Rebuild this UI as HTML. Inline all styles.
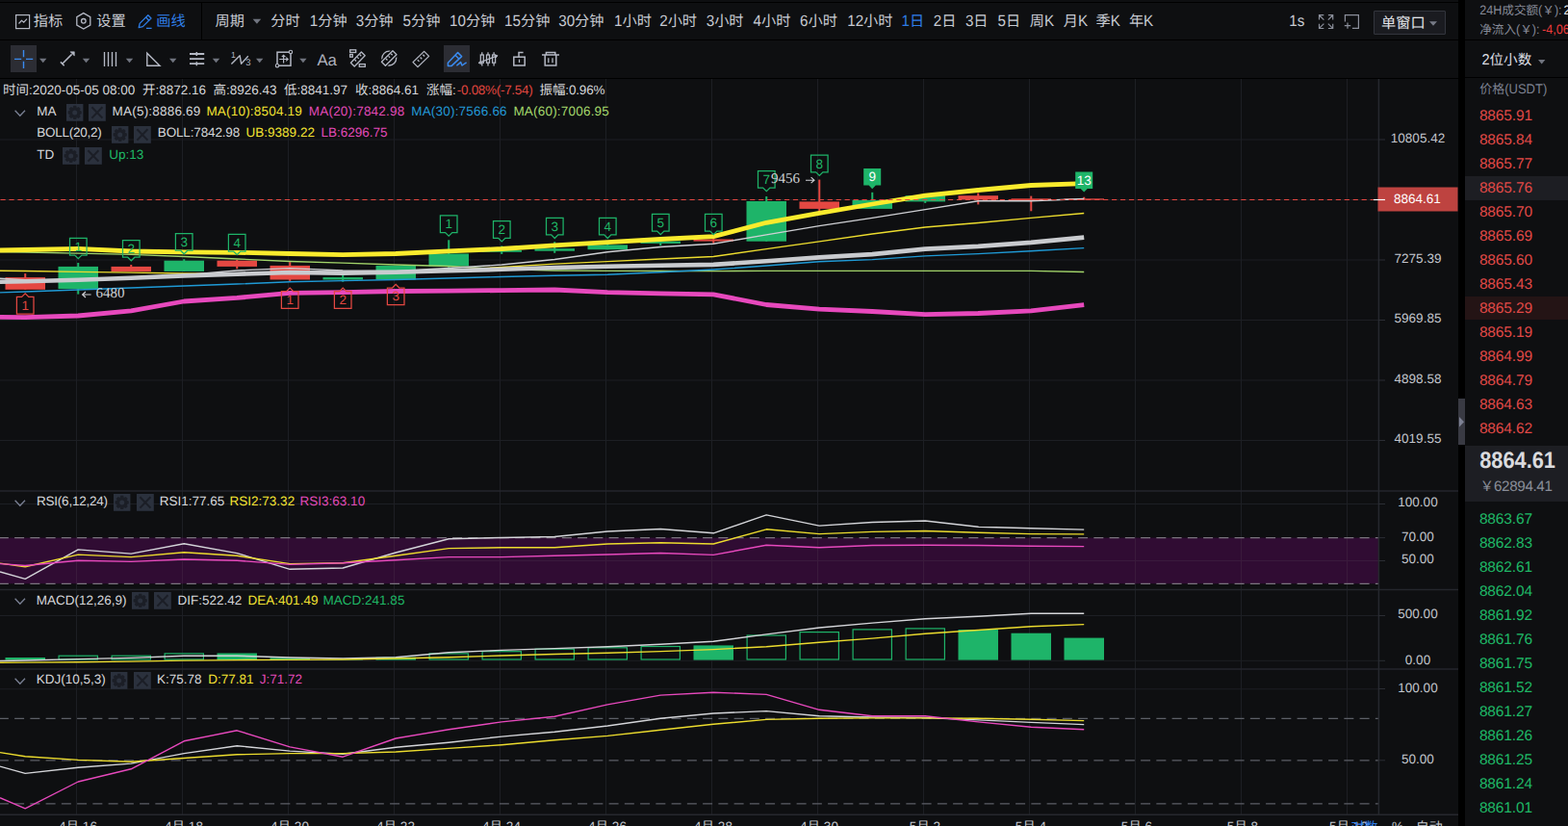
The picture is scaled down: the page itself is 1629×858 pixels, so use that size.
<!DOCTYPE html><html><head><meta charset="utf-8"><title>K-line chart</title><style>
html,body{margin:0;padding:0;background:#000;}
body{width:1629px;height:858px;overflow:hidden;position:relative;font-family:"Liberation Sans","Noto Sans CJK SC",sans-serif;text-rendering:geometricPrecision;}
#L{position:absolute;left:0;top:0;width:1515px;height:858px;background:#0e0f11;overflow:hidden}
#R{position:absolute;left:1522px;top:0;width:107px;height:858px;background:#0e0f11;overflow:hidden}
.t{position:absolute;line-height:20px;white-space:nowrap;}
.k{position:absolute;background:#000}

.l2{display:inline-block;transform:scaleY(1.08);transform-origin:0 72%}
.l3{display:inline-block;transform:scaleY(1.1);transform-origin:0 88%}
.lb{display:inline-block;transform:scaleY(1.07);transform-origin:0 77%}
</style></head><body>
<div id="L">
<svg style="position:absolute;left:0;top:0" width="1515" height="858" shape-rendering="auto"><path d="M79.5 82V846" stroke="#1d1f24" stroke-width="1"/><path d="M189.5 82V846" stroke="#1d1f24" stroke-width="1"/><path d="M299.5 82V846" stroke="#1d1f24" stroke-width="1"/><path d="M409.5 82V846" stroke="#1d1f24" stroke-width="1"/><path d="M519.5 82V846" stroke="#1d1f24" stroke-width="1"/><path d="M629.5 82V846" stroke="#1d1f24" stroke-width="1"/><path d="M739.5 82V846" stroke="#1d1f24" stroke-width="1"/><path d="M849.5 82V846" stroke="#1d1f24" stroke-width="1"/><path d="M959.5 82V846" stroke="#1d1f24" stroke-width="1"/><path d="M1069.5 82V846" stroke="#1d1f24" stroke-width="1"/><path d="M1179.5 82V846" stroke="#1d1f24" stroke-width="1"/><path d="M1289.5 82V846" stroke="#1d1f24" stroke-width="1"/><path d="M1399.5 82V846" stroke="#1d1f24" stroke-width="1"/><path d="M0 145.0H1432" stroke="#1d1f24" stroke-width="1"/><path d="M0 207.5H1432" stroke="#1d1f24" stroke-width="1"/><path d="M0 270.0H1432" stroke="#1d1f24" stroke-width="1"/><path d="M0 332.5H1432" stroke="#1d1f24" stroke-width="1"/><path d="M0 395.0H1432" stroke="#1d1f24" stroke-width="1"/><path d="M0 457.5H1432" stroke="#1d1f24" stroke-width="1"/><path d="M0 523.5H1432" stroke="#1d1f24" stroke-width="1"/><path d="M0 582.5H1432" stroke="#1d1f24" stroke-width="1"/><path d="M0 639.5H1432" stroke="#1d1f24" stroke-width="1"/><path d="M0 686.3H1432" stroke="#1d1f24" stroke-width="1"/><path d="M0 715.8H1432" stroke="#1d1f24" stroke-width="1"/><rect x="0" y="558.6" width="1432" height="47.7" fill="#300c33"/><path d="M79.5 558.5V606.5" stroke="#3a1a3c" stroke-width="1"/><path d="M189.5 558.5V606.5" stroke="#3a1a3c" stroke-width="1"/><path d="M299.5 558.5V606.5" stroke="#3a1a3c" stroke-width="1"/><path d="M409.5 558.5V606.5" stroke="#3a1a3c" stroke-width="1"/><path d="M519.5 558.5V606.5" stroke="#3a1a3c" stroke-width="1"/><path d="M629.5 558.5V606.5" stroke="#3a1a3c" stroke-width="1"/><path d="M739.5 558.5V606.5" stroke="#3a1a3c" stroke-width="1"/><path d="M849.5 558.5V606.5" stroke="#3a1a3c" stroke-width="1"/><path d="M959.5 558.5V606.5" stroke="#3a1a3c" stroke-width="1"/><path d="M1069.5 558.5V606.5" stroke="#3a1a3c" stroke-width="1"/><path d="M1179.5 558.5V606.5" stroke="#3a1a3c" stroke-width="1"/><path d="M1289.5 558.5V606.5" stroke="#3a1a3c" stroke-width="1"/><path d="M1399.5 558.5V606.5" stroke="#3a1a3c" stroke-width="1"/><path d="M0 582.5H1432" stroke="#3a1a3c" stroke-width="1"/><path d="M-1.15 558.6H1432" stroke="#7a757e" stroke-width="1.3" stroke-dasharray="10 6.25"/><path d="M-1.15 606.3H1432" stroke="#7a757e" stroke-width="1.3" stroke-dasharray="10 6.25"/><path d="M-1.15 746.4H1432" stroke="#5c5f67" stroke-width="1.3" stroke-dasharray="10 6.25"/><path d="M-1.15 789.8H1432" stroke="#5c5f67" stroke-width="1.3" stroke-dasharray="10 6.25"/><path d="M-1.15 834.8H1432" stroke="#5c5f67" stroke-width="1.3" stroke-dasharray="10 6.25"/><path d="M0 510.0H1515" stroke="#24262c" stroke-width="1.6"/><path d="M0 612.5H1515" stroke="#24262c" stroke-width="1.3"/><path d="M0 695.0H1515" stroke="#24262c" stroke-width="1.6"/><path d="M1432.4 82V846" stroke="#26282e" stroke-width="1.5"/><path d="M0 846.2H1515" stroke="#26282e" stroke-width="1.6"/><path d="M1432 145.0H1439" stroke="#2b2d34" stroke-width="1"/><path d="M1432 270.0H1439" stroke="#2b2d34" stroke-width="1"/><path d="M1432 332.5H1439" stroke="#2b2d34" stroke-width="1"/><path d="M1432 395.0H1439" stroke="#2b2d34" stroke-width="1"/><path d="M1432 457.5H1439" stroke="#2b2d34" stroke-width="1"/><path d="M1432 523.5H1439" stroke="#2b2d34" stroke-width="1"/><path d="M1432 558.6H1439" stroke="#2b2d34" stroke-width="1"/><path d="M1432 582.5H1439" stroke="#2b2d34" stroke-width="1"/><path d="M1432 639.5H1439" stroke="#2b2d34" stroke-width="1"/><path d="M1432 686.3H1439" stroke="#2b2d34" stroke-width="1"/><path d="M1432 715.5H1439" stroke="#2b2d34" stroke-width="1"/><path d="M1432 789.8H1439" stroke="#2b2d34" stroke-width="1"/><path d="M26.25 284.1V300.8" stroke="#e44842" stroke-width="2"/><rect x="5.5" y="288.1" width="41.5" height="12.7" fill="#e44842"/><path d="M81.25 273.0V305.6" stroke="#1eb469" stroke-width="2"/><rect x="60.5" y="276.9" width="41.5" height="23.2" fill="#1eb469"/><path d="M136.25 275.0V282.1" stroke="#e44842" stroke-width="2"/><rect x="115.5" y="276.9" width="41.5" height="5.2" fill="#e44842"/><path d="M191.25 269.2V281.9" stroke="#1eb469" stroke-width="2"/><rect x="170.5" y="270.7" width="41.5" height="11.2" fill="#1eb469"/><path d="M246.25 269.9V279.3" stroke="#e44842" stroke-width="2"/><rect x="225.5" y="270.7" width="41.5" height="6.2" fill="#e44842"/><path d="M301.25 272.1V291.9" stroke="#e44842" stroke-width="2"/><rect x="280.5" y="275.9" width="41.5" height="14.6" fill="#e44842"/><path d="M356.25 285.9V292.7" stroke="#1eb469" stroke-width="2"/><rect x="335.5" y="288.1" width="41.5" height="2.4" fill="#1eb469"/><path d="M411.25 275.9V290.5" stroke="#1eb469" stroke-width="2"/><rect x="390.5" y="275.9" width="41.5" height="14.6" fill="#1eb469"/><path d="M466.25 249.3V277.8" stroke="#1eb469" stroke-width="2"/><rect x="445.5" y="263.5" width="41.5" height="12.9" fill="#1eb469"/><path d="M521.25 255.4V263.9" stroke="#1eb469" stroke-width="2"/><rect x="500.5" y="260.0" width="41.5" height="1.8" fill="#1eb469"/><path d="M576.25 251.2V262.8" stroke="#1eb469" stroke-width="2"/><rect x="555.5" y="258.2" width="41.5" height="2.5" fill="#1eb469"/><path d="M631.25 252.0V259.2" stroke="#1eb469" stroke-width="2"/><rect x="610.5" y="254.4" width="41.5" height="4.8" fill="#1eb469"/><path d="M686.25 248.0V255.0" stroke="#1eb469" stroke-width="2"/><rect x="665.5" y="250.6" width="41.5" height="2.3" fill="#1eb469"/><path d="M741.25 246.0V252.7" stroke="#e44842" stroke-width="2"/><rect x="720.5" y="248.5" width="41.5" height="2.1" fill="#e44842"/><path d="M796.25 204.0V250.7" stroke="#1eb469" stroke-width="2"/><rect x="775.5" y="209.0" width="41.5" height="41.7" fill="#1eb469"/><path d="M851.25 186.6V219.8" stroke="#e44842" stroke-width="2"/><rect x="830.5" y="209.4" width="41.5" height="7.5" fill="#e44842"/><path d="M906.25 199.8V216.9" stroke="#1eb469" stroke-width="2"/><rect x="885.5" y="208.0" width="41.5" height="8.9" fill="#1eb469"/><path d="M961.25 203.2V210.9" stroke="#1eb469" stroke-width="2"/><rect x="940.5" y="203.2" width="41.5" height="6.2" fill="#1eb469"/><path d="M1016.25 200.5V212.4" stroke="#e44842" stroke-width="2"/><rect x="995.5" y="203.2" width="41.5" height="4.2" fill="#e44842"/><path d="M1071.25 203.6V219.3" stroke="#e44842" stroke-width="2"/><rect x="1050.5" y="206.3" width="41.5" height="1.7" fill="#e44842"/><path d="M1126.25 204.7V207.6" stroke="#e44842" stroke-width="2"/><rect x="1105.5" y="206.3" width="41.5" height="1.3" fill="#e44842"/><rect x="5.5" y="683.0" width="41.5" height="2.6" fill="#1eb469"/><rect x="61.1" y="681.2" width="40.3" height="3.8" fill="none" stroke="#1eb469" stroke-width="1.2"/><rect x="116.1" y="681.2" width="40.3" height="3.8" fill="none" stroke="#1eb469" stroke-width="1.2"/><rect x="171.1" y="678.9" width="40.3" height="6.1" fill="none" stroke="#1eb469" stroke-width="1.2"/><rect x="225.5" y="678.5" width="41.5" height="7.1" fill="#1eb469"/><rect x="280.5" y="683.3" width="41.5" height="2.3" fill="#1eb469"/><rect x="335.5" y="685.2" width="41.5" height="0.4" fill="#1eb469"/><rect x="390.5" y="682.7" width="41.5" height="2.9" fill="#1eb469"/><rect x="446.1" y="678.9" width="40.3" height="6.1" fill="none" stroke="#1eb469" stroke-width="1.2"/><rect x="501.1" y="676.7" width="40.3" height="8.3" fill="none" stroke="#1eb469" stroke-width="1.2"/><rect x="556.1" y="674.2" width="40.3" height="10.8" fill="none" stroke="#1eb469" stroke-width="1.2"/><rect x="611.1" y="672.8" width="40.3" height="12.2" fill="none" stroke="#1eb469" stroke-width="1.2"/><rect x="666.1" y="671.5" width="40.3" height="13.5" fill="none" stroke="#1eb469" stroke-width="1.2"/><rect x="720.5" y="670.4" width="41.5" height="15.2" fill="#1eb469"/><rect x="776.1" y="660.0" width="40.3" height="25.0" fill="none" stroke="#1eb469" stroke-width="1.2"/><rect x="831.1" y="656.6" width="40.3" height="28.4" fill="none" stroke="#1eb469" stroke-width="1.2"/><rect x="886.1" y="653.9" width="40.3" height="31.1" fill="none" stroke="#1eb469" stroke-width="1.2"/><rect x="941.1" y="652.9" width="40.3" height="32.1" fill="none" stroke="#1eb469" stroke-width="1.2"/><rect x="995.5" y="654.0" width="41.5" height="31.6" fill="#1eb469"/><rect x="1050.5" y="657.7" width="41.5" height="27.9" fill="#1eb469"/><rect x="1105.5" y="662.6" width="41.5" height="23.0" fill="#1eb469"/><polyline points="0.0,261.5 26.2,262.0 81.2,263.2 136.2,264.4 191.2,266.5 246.2,269.0 301.2,271.5 356.2,273.2 411.2,275.0 466.2,276.5 521.2,279.5 576.2,281.0 631.2,281.3 686.2,281.5 741.2,281.6 796.2,281.4 851.2,281.4 906.2,281.4 961.2,281.4 1016.2,281.4 1071.2,281.4 1126.2,282.5" stroke="#a2d46a" stroke-width="1.35" fill="none" stroke-linejoin="round"/><polyline points="0.0,303.9 26.2,303.0 81.2,301.0 136.2,299.0 191.2,297.0 246.2,295.0 301.2,292.8 356.2,291.6 411.2,290.5 466.2,289.0 521.2,287.5 576.2,286.2 631.2,285.2 686.2,282.8 741.2,280.0 796.2,276.0 851.2,271.8 906.2,269.6 961.2,265.9 1016.2,263.6 1071.2,260.8 1126.2,257.6" stroke="#1f9ad6" stroke-width="1.4" fill="none" stroke-linejoin="round"/><polyline points="0.0,281.2 26.2,281.5 81.2,282.3 136.2,283.2 191.2,284.0 246.2,284.5 301.2,284.0 356.2,283.5 411.2,282.0 466.2,280.5 521.2,277.5 576.2,274.2 631.2,271.6 686.2,269.0 741.2,266.5 796.2,258.6 851.2,250.8 906.2,243.0 961.2,236.0 1016.2,231.5 1071.2,226.4 1126.2,221.5" stroke="#ecdc2e" stroke-width="1.35" fill="none" stroke-linejoin="round"/><polyline points="0.0,289.3 26.2,290.6 81.2,290.6 136.2,288.6 191.2,285.6 246.2,281.0 301.2,278.6 356.2,281.0 411.2,281.5 466.2,278.5 521.2,275.0 576.2,269.5 631.2,261.7 686.2,256.5 741.2,253.3 796.2,243.9 851.2,234.6 906.2,226.4 961.2,217.6 1016.2,208.8 1071.2,208.7 1126.2,206.5" stroke="#cfd0d4" stroke-width="1.4" fill="none" stroke-linejoin="round"/><polyline points="0.0,292.7 26.2,292.2 81.2,290.7 136.2,288.8 191.2,286.4 246.2,284.7 301.2,283.0 356.2,283.6 411.2,282.8 466.2,281.2 521.2,279.8 576.2,278.0 631.2,276.8 686.2,275.8 741.2,274.9 796.2,271.2 851.2,267.4 906.2,264.1 961.2,258.6 1016.2,255.9 1071.2,251.9 1126.2,246.6" stroke="#c9cbcf" stroke-width="4.6" fill="none" stroke-linejoin="round"/><polyline points="0.0,260.0 26.2,259.5 81.2,258.4 136.2,261.0 191.2,261.8 246.2,262.3 301.2,263.5 356.2,264.7 411.2,263.5 466.2,260.9 521.2,258.5 576.2,254.8 631.2,251.7 686.2,248.5 741.2,245.6 796.2,231.3 851.2,221.3 906.2,212.0 961.2,203.2 1016.2,197.5 1071.2,192.5 1126.2,190.6" stroke="#faeb2d" stroke-width="4.8" fill="none" stroke-linejoin="round"/><polyline points="0.0,329.3 26.2,329.7 81.2,328.0 136.2,322.8 191.2,313.0 246.2,309.4 301.2,304.3 356.2,303.6 411.2,302.5 466.2,302.2 521.2,301.6 576.2,301.0 631.2,303.7 686.2,304.8 741.2,305.8 796.2,316.5 851.2,321.2 906.2,323.5 961.2,326.6 1016.2,325.5 1071.2,322.8 1126.2,316.7" stroke="#e749bd" stroke-width="4.8" fill="none" stroke-linejoin="round"/><polyline points="0.0,593.9 26.2,601.3 81.2,570.9 136.2,575.1 191.2,564.8 246.2,574.6 301.2,591.3 356.2,590.0 411.2,574.0 466.2,559.8 521.2,558.5 576.2,557.5 631.2,552.0 686.2,549.5 741.2,553.8 796.2,534.9 851.2,546.1 906.2,542.5 961.2,541.0 1016.2,547.3 1071.2,548.7 1126.2,550.1" stroke="#d4d5d9" stroke-width="1.4" fill="none" stroke-linejoin="round"/><polyline points="0.0,585.1 26.2,588.8 81.2,576.1 136.2,578.6 191.2,573.7 246.2,577.3 301.2,585.6 356.2,584.8 411.2,577.3 466.2,569.6 521.2,568.8 576.2,568.8 631.2,565.0 686.2,563.7 741.2,565.0 796.2,549.8 851.2,554.6 906.2,552.4 961.2,551.5 1016.2,553.2 1071.2,554.6 1126.2,554.9" stroke="#ecdc2e" stroke-width="1.4" fill="none" stroke-linejoin="round"/><polyline points="0.0,585.6 26.2,587.5 81.2,582.3 136.2,583.4 191.2,581.0 246.2,582.3 301.2,586.4 356.2,584.8 411.2,581.7 466.2,578.6 521.2,578.6 576.2,577.3 631.2,576.0 686.2,574.5 741.2,576.4 796.2,566.2 851.2,568.7 906.2,566.5 961.2,566.2 1016.2,566.5 1071.2,567.3 1126.2,567.6" stroke="#e749bd" stroke-width="1.4" fill="none" stroke-linejoin="round"/><polyline points="0.0,686.5 26.2,686.0 81.2,684.6 136.2,683.4 191.2,681.3 246.2,681.2 301.2,683.0 356.2,684.0 411.2,682.7 466.2,677.8 521.2,675.4 576.2,673.6 631.2,671.7 686.2,669.2 741.2,666.3 796.2,658.9 851.2,652.0 906.2,647.1 961.2,642.7 1016.2,640.2 1071.2,637.3 1126.2,637.3" stroke="#d4d5d9" stroke-width="1.4" fill="none" stroke-linejoin="round"/><polyline points="0.0,688.3 26.2,688.1 81.2,687.7 136.2,687.1 191.2,686.1 246.2,685.6 301.2,685.4 356.2,685.0 411.2,684.0 466.2,682.7 521.2,681.0 576.2,679.5 631.2,678.3 686.2,676.6 741.2,674.6 796.2,671.7 851.2,667.3 906.2,663.1 961.2,658.2 1016.2,654.5 1071.2,650.8 1126.2,648.6" stroke="#ecdc2e" stroke-width="1.4" fill="none" stroke-linejoin="round"/><polyline points="0.0,796.1 26.2,803.4 81.2,797.3 136.2,793.1 191.2,782.6 246.2,774.7 301.2,780.1 356.2,783.3 411.2,776.2 466.2,771.2 521.2,765.1 576.2,760.2 631.2,754.0 686.2,746.2 741.2,741.0 796.2,738.6 851.2,743.7 906.2,745.0 961.2,745.5 1016.2,747.9 1071.2,750.4 1126.2,752.6" stroke="#d4d5d9" stroke-width="1.4" fill="none" stroke-linejoin="round"/><polyline points="0.0,781.6 26.2,785.8 81.2,789.4 136.2,791.2 191.2,787.5 246.2,783.8 301.2,782.6 356.2,782.6 411.2,781.0 466.2,777.4 521.2,773.7 576.2,768.8 631.2,764.4 686.2,758.2 741.2,752.3 796.2,747.4 851.2,746.2 906.2,745.9 961.2,745.9 1016.2,746.2 1071.2,747.2 1126.2,748.6" stroke="#ecdc2e" stroke-width="1.4" fill="none" stroke-linejoin="round"/><polyline points="0.0,828.7 26.2,839.8 81.2,812.0 136.2,798.8 191.2,769.8 246.2,758.8 301.2,775.9 356.2,786.2 411.2,767.0 466.2,757.7 521.2,749.9 576.2,744.2 631.2,731.9 686.2,722.1 741.2,719.2 796.2,721.4 851.2,737.3 906.2,743.7 961.2,743.7 1016.2,749.9 1071.2,755.3 1126.2,757.7" stroke="#e749bd" stroke-width="1.4" fill="none" stroke-linejoin="round"/><path d="M0.5 207.5H1432" stroke="#e44842" stroke-width="1" stroke-dasharray="5.2 3.75"/><path d="M72.5 247.4h17.6v17.6h-5.2l-3.6 3.6l-3.6-3.6h-5.2z" fill="none" stroke="#1eb469" stroke-width="1.25"/><path d="M127.5 249.6h17.6v17.6h-5.2l-3.6 3.6l-3.6-3.6h-5.2z" fill="none" stroke="#1eb469" stroke-width="1.25"/><path d="M182.4 242.6h17.6v17.6h-5.2l-3.6 3.6l-3.6-3.6h-5.2z" fill="none" stroke="#1eb469" stroke-width="1.25"/><path d="M237.4 243.4h17.6v17.6h-5.2l-3.6 3.6l-3.6-3.6h-5.2z" fill="none" stroke="#1eb469" stroke-width="1.25"/><path d="M457.4 223.9h17.6v17.6h-5.2l-3.6 3.6l-3.6-3.6h-5.2z" fill="none" stroke="#1eb469" stroke-width="1.25"/><path d="M512.5 229.7h17.6v17.6h-5.2l-3.6 3.6l-3.6-3.6h-5.2z" fill="none" stroke="#1eb469" stroke-width="1.25"/><path d="M567.5 226.3h17.6v17.6h-5.2l-3.6 3.6l-3.6-3.6h-5.2z" fill="none" stroke="#1eb469" stroke-width="1.25"/><path d="M622.5 226.3h17.6v17.6h-5.2l-3.6 3.6l-3.6-3.6h-5.2z" fill="none" stroke="#1eb469" stroke-width="1.25"/><path d="M677.5 222.4h17.6v17.6h-5.2l-3.6 3.6l-3.6-3.6h-5.2z" fill="none" stroke="#1eb469" stroke-width="1.25"/><path d="M732.5 222.4h17.6v17.6h-5.2l-3.6 3.6l-3.6-3.6h-5.2z" fill="none" stroke="#1eb469" stroke-width="1.25"/><path d="M787.5 177.5h17.6v17.6h-5.2l-3.6 3.6l-3.6-3.6h-5.2z" fill="none" stroke="#1eb469" stroke-width="1.25"/><path d="M842.5 161.2h17.6v17.6h-5.2l-3.6 3.6l-3.6-3.6h-5.2z" fill="none" stroke="#1eb469" stroke-width="1.25"/><path d="M897.2 175.0h18v17.6h-5.4l-3.6 3.6l-3.6-3.6h-5.4z" fill="#1eb469"/><path d="M1117.2 178.4h18v17.6h-5.4l-3.6 3.6l-3.6-3.6h-5.4z" fill="#1eb469"/><path d="M17.4 308.4h5.2l3.6-3.6l3.6 3.6h5.2v17.6h-17.6z" fill="none" stroke="#e44842" stroke-width="1.25"/><path d="M292.4 302.7h5.2l3.6-3.6l3.6 3.6h5.2v17.6h-17.6z" fill="none" stroke="#e44842" stroke-width="1.25"/><path d="M347.4 302.7h5.2l3.6-3.6l3.6 3.6h5.2v17.6h-17.6z" fill="none" stroke="#e44842" stroke-width="1.25"/><path d="M402.4 299.0h5.2l3.6-3.6l3.6 3.6h5.2v17.6h-17.6z" fill="none" stroke="#e44842" stroke-width="1.25"/><rect x="1431.5" y="194.5" width="83" height="25" fill="#be4340"/><path d="M1427 207.5H1439" stroke="#fff" stroke-width="1.2"/><path d="M85.6 306h9M89 303l-3.4 3 3.4 3" stroke="#cfd1d6" stroke-width="1.1" fill="none"/><path d="M837 187.2h9M842.6 184.2l3.4 3-3.4 3" stroke="#cfd1d6" stroke-width="1.1" fill="none"/></svg>
<div class="k" style="left:0;top:2px;width:1515px;height:1px"></div>
<div class="k" style="left:0;top:41px;width:1515px;height:1px"></div>
<div class="k" style="left:209px;top:3px;width:1px;height:38px"></div>
<div class="k" style="left:0;top:81px;width:1515px;height:1px"></div>
<div class="t" style="left:34.80px;top:13.03px;font-size:15.20px;color:#c7cad1;">指标</div>
<div class="t" style="left:100.20px;top:13.03px;font-size:15.20px;color:#c7cad1;">设置</div>
<div class="t" style="left:162.20px;top:13.03px;font-size:15.20px;color:#2e7de6;">画线</div>
<div class="t" style="left:223.60px;top:13.03px;font-size:15.20px;color:#c7cad1;">周期</div>
<div class="t" style="left:281.20px;top:13.03px;font-size:15.20px;color:#c7cad1;">分时</div>
<div class="t" style="left:321.80px;top:13.03px;font-size:15.20px;color:#c7cad1;"><span class="lb">1</span>分钟</div>
<div class="t" style="left:369.70px;top:13.03px;font-size:15.20px;color:#c7cad1;"><span class="lb">3</span>分钟</div>
<div class="t" style="left:418.50px;top:13.03px;font-size:15.20px;color:#c7cad1;"><span class="lb">5</span>分钟</div>
<div class="t" style="left:467.00px;top:13.03px;font-size:15.20px;color:#c7cad1;"><span class="lb">10</span>分钟</div>
<div class="t" style="left:524.10px;top:13.03px;font-size:15.20px;color:#c7cad1;"><span class="lb">15</span>分钟</div>
<div class="t" style="left:580.20px;top:13.03px;font-size:15.20px;color:#c7cad1;"><span class="lb">30</span>分钟</div>
<div class="t" style="left:638.00px;top:13.03px;font-size:15.20px;color:#c7cad1;"><span class="lb">1</span>小时</div>
<div class="t" style="left:685.20px;top:13.03px;font-size:15.20px;color:#c7cad1;"><span class="lb">2</span>小时</div>
<div class="t" style="left:733.70px;top:13.03px;font-size:15.20px;color:#c7cad1;"><span class="lb">3</span>小时</div>
<div class="t" style="left:782.50px;top:13.03px;font-size:15.20px;color:#c7cad1;"><span class="lb">4</span>小时</div>
<div class="t" style="left:831.00px;top:13.03px;font-size:15.20px;color:#c7cad1;"><span class="lb">6</span>小时</div>
<div class="t" style="left:880.20px;top:13.03px;font-size:15.20px;color:#c7cad1;"><span class="lb">12</span>小时</div>
<div class="t" style="left:936.60px;top:13.03px;font-size:15.20px;color:#2e7de6;"><span class="lb">1</span>日</div>
<div class="t" style="left:969.70px;top:13.03px;font-size:15.20px;color:#c7cad1;"><span class="lb">2</span>日</div>
<div class="t" style="left:1002.90px;top:13.03px;font-size:15.20px;color:#c7cad1;"><span class="lb">3</span>日</div>
<div class="t" style="left:1036.60px;top:13.03px;font-size:15.20px;color:#c7cad1;"><span class="lb">5</span>日</div>
<div class="t" style="left:1069.80px;top:13.03px;font-size:15.20px;color:#c7cad1;">周<span class="lb">K</span></div>
<div class="t" style="left:1104.70px;top:13.03px;font-size:15.20px;color:#c7cad1;">月<span class="lb">K</span></div>
<div class="t" style="left:1138.50px;top:13.03px;font-size:15.20px;color:#c7cad1;">季<span class="lb">K</span></div>
<div class="t" style="left:1172.90px;top:13.03px;font-size:15.20px;color:#c7cad1;">年<span class="lb">K</span></div>
<div class="t" style="left:1339.20px;top:13.03px;font-size:15.20px;color:#c7cad1;"><span class="lb">1s</span></div>
<div style="position:absolute;left:1427px;top:11px;width:75px;height:25px;box-sizing:border-box;border:1px solid #33353d;background:#1a1b20;border-radius:1px"></div>
<div class="t" style="left:1435.00px;top:15.13px;font-size:15.20px;color:#e4e6ea;">单窗口</div>
<svg style="position:absolute;left:0;top:0" width="1515" height="82" fill="none" stroke-linecap="butt"><rect x="16.6" y="15.6" width="14" height="14" stroke="#b4b8c4" stroke-width="1.2"/><path d="M19.5 24.5l3-3.2 2.2 1.8 3.3-3.4" stroke="#b4b8c4" stroke-width="1.2"/><path d="M86.8 13.6l7 4v8.4l-7 4-7-4v-8.4z" stroke="#b4b8c4" stroke-width="1.3"/><circle cx="86.8" cy="21.8" r="2.3" stroke="#b4b8c4" stroke-width="1.3"/><path d="M144.2 28.6l1-4.2 8.6-8.6 3.2 3.2-8.6 8.6z M151.6 18l3.2 3.2 M152 29.4h5.6" stroke="#2e7de6" stroke-width="1.3" stroke-linejoin="round"/><path d="M262.6 19.8h8.6l-4.3 5.0z" fill="#70747f"/><path d="M1370.5 20.5v-4.8h4.8M1370.8 16l4.6 4.6 M1384.7 20.5v-4.8h-4.8M1384.4 16l-4.6 4.6 M1370.5 24.7v4.8h4.8M1370.8 29.2l4.6-4.6 M1384.7 24.7v4.8h-4.8M1384.4 29.2l-4.6-4.6" stroke="#8b8f9b" stroke-width="1.2"/><path d="M1397.4 22.5v-6.9h14v13.8h-6.5 M1396.8 26.6h6.4M1400 23.4v6.4" stroke="#8b8f9b" stroke-width="1.2"/><path d="M1485.0 22.2h8.0l-4.0 4.6z" fill="#777b87"/><rect x="11" y="47" width="27" height="28" fill="#2c2d34"/><path d="M15 61.4h7.2M27 61.4h7.2M24.5 52v7.2M24.5 63.8v7.2" stroke="#3a8bf0" stroke-width="1.4"/><path d="M41.0 60.8h7.4l-3.7 4.4z" fill="#70747f"/><path d="M65 66L74.6 56.4 M62.9 64.4l3.8 3.8" stroke="#b4b8c4" stroke-width="1.5"/><path d="M73 53.8h4.3v4.3z" fill="#b4b8c4" stroke="#b4b8c4" stroke-width=".6" stroke-linejoin="round"/><path d="M85.8 60.8h7.4l-3.7 4.4z" fill="#70747f"/><path d="M108.5 54v15M112.5 54v15M116.5 54v15M120.5 54v15" stroke="#b4b8c4" stroke-width="1.35"/><path d="M130.8 60.8h7.4l-3.7 4.4z" fill="#70747f"/><path d="M152.8 55.2v13h13.2z" stroke="#b4b8c4" stroke-width="1.4" stroke-linejoin="miter"/><path d="M176.0 60.8h7.4l-3.7 4.4z" fill="#70747f"/><path d="M197 56h15.2M197 61.1h15.2M197 66.2h15.2" stroke="#b4b8c4" stroke-width="1.8"/><path d="M204.3 54v4M204.3 64.2v4" stroke="#b4b8c4" stroke-width="1.5"/><path d="M220.8 60.8h7.4l-3.7 4.4z" fill="#70747f"/><path d="M240.4 66.6l8.8-8.8 1.4 8.4 7.2-8" stroke="#b4b8c4" stroke-width="1.4" stroke-linejoin="round"/><path d="M266.0 60.8h7.4l-3.7 4.4z" fill="#70747f"/><rect x="288" y="54.2" width="14" height="14" stroke="#b4b8c4" stroke-width="1.5"/><path d="M290.2 61.5h8.6M294.6 57.4v8.2 M297.2 59.6l2 1.9-2 1.9 M292.8 59.2l1.8-1.9 1.8 1.9" stroke="#b4b8c4" stroke-width="1.2"/><circle cx="302" cy="54" r="1.7" fill="#0e0f11" stroke="#b4b8c4" stroke-width="1.1"/><circle cx="288" cy="68.2" r="1.7" fill="#0e0f11" stroke="#b4b8c4" stroke-width="1.1"/><path d="M311.2 60.8h7.4l-3.7 4.4z" fill="#70747f"/><g stroke="#b4b8c4" stroke-width="1.3"><rect x="363.7" y="51.8" width="6" height="2.7"/><rect x="363.7" y="56.5" width="2.6" height="2.7"/><rect x="373.3" y="66.6" width="6" height="2.7"/><path d="M364.4 65.2l11-11.2 3.8 3.8-11 11.2z" stroke-linejoin="round" fill="#0e0f11"/><path d="M368.6 62l1.5 1.5M371.2 59.4l1.5 1.5M373.8 56.8l1.5 1.5"/></g><g stroke="#b4b8c4" stroke-width="1.3"><circle cx="404.3" cy="60.6" r="7.4"/><path d="M396.4 64.2l11.6-11.4 4 4-11.6 11.4z" stroke="#0e0f11" stroke-width="3.6" fill="#0e0f11" stroke-linejoin="round"/><path d="M396.4 64.2l11.6-11.4 4 4-11.6 11.4z" stroke-linejoin="round" fill="#0e0f11"/><path d="M401 61l1.5 1.5M403.6 58.4l1.5 1.5M406.2 55.8l1.5 1.5"/></g><g stroke="#b4b8c4" stroke-width="1.3"><path d="M429 64.6l11.6-11.2 5 5-11.6 11.2z" stroke-linejoin="round"/><path d="M433.8 62.2l1.7 1.7M436.6 59.5l1.7 1.7M439.4 56.8l1.7 1.7"/></g><rect x="461" y="47" width="27" height="28" fill="#2c2d34"/><path d="M465.4 68.4v-3.2l10.2-10.6 4 4-10.4 9.8z M473 57.2l4 4 M474.4 68.2l4.2-3.6 1.4 3.4 4.6-3.2" stroke="#3a8bf0" stroke-width="1.5" stroke-linejoin="round"/><g stroke="#b4b8c4" stroke-width="1.3"><path d="M500.8 54.2v14.2M507 54.2v14.2M513.1 54.2v14.2"/><rect x="499.3" y="57" width="3" height="8.2" fill="#0e0f11"/><rect x="505.5" y="57" width="3" height="8.2" fill="#0e0f11"/><rect x="511.6" y="57" width="3" height="8.2" fill="#0e0f11"/><path d="M497.4 65.4L516.6 57.8"/><path d="M499.4 63.4l-2.2 2.1 2.8 .9M514 57.4l2.8 .3-1.6 2.3" stroke-width="1"/></g><g stroke="#b4b8c4" stroke-width="1.5"><rect x="533.8" y="59.2" width="11.4" height="8.8"/><path d="M539 59.2v-4.6h4.6"/><path d="M539.5 61.6v3.4" stroke-width="1.3"/></g><g stroke="#b4b8c4" stroke-width="1.5"><path d="M563 57h18M567.4 57v-2.4h9.4v2.4M566.2 57v11h11.6v-11"/><path d="M569.8 60.2v5M574 60.2v5" stroke-width="1.3"/></g></svg>
<div class="t" style="left:329.60px;top:52.78px;font-size:16.80px;color:#aeb2be;letter-spacing:-0.3px">Aa</div>
<div class="t" style="left:240.00px;top:47.22px;font-size:8.60px;color:#b4b8c4;">1</div>
<div class="t" style="left:255.20px;top:55.67px;font-size:9.60px;color:#b4b8c4;">3</div>
<div class="t" style="left:3.00px;top:83.62px;font-size:13.50px;color:#d6d7da;">时间:2020-05-05 08:00</div>
<div class="t" style="left:148.00px;top:83.62px;font-size:13.50px;color:#d6d7da;">开:8872.16</div>
<div class="t" style="left:221.50px;top:83.62px;font-size:13.50px;color:#d6d7da;">高:8926.43</div>
<div class="t" style="left:295.00px;top:83.62px;font-size:13.50px;color:#d6d7da;">低:8841.97</div>
<div class="t" style="left:369.00px;top:83.62px;font-size:13.50px;color:#d6d7da;">收:8864.61</div>
<div class="t" style="left:443.00px;top:83.62px;font-size:13.50px;color:#d6d7da;">涨幅:</div>
<div class="t" style="left:474.80px;top:83.62px;font-size:13.50px;color:#e0463f;letter-spacing:-0.3px">-0.08%(-7.54)</div>
<div class="t" style="left:560.60px;top:83.62px;font-size:13.50px;color:#d6d7da;letter-spacing:-0.15px">振幅:0.96%</div>
<svg style="position:absolute;left:15.0px;top:114.0px" width="12" height="8" viewBox="0 0 12 8"><path d="M0.6 0.8L5.8 6.2L11 0.8" fill="none" stroke="#7a8194" stroke-width="1.3"/></svg>
<div class="t" style="left:38.20px;top:106.12px;font-size:13.50px;color:#d6d7da;">MA</div>
<svg style="position:absolute;left:68.8px;top:108.1px" width="18" height="18" viewBox="0 0 18 18"><rect width="17.4" height="17.8" fill="#2b313d"/><path d="M15.76 7.47L15.76 10.33L13.69 10.95L13.68 10.98L14.70 12.88L12.68 14.90L10.78 13.88L10.75 13.89L10.13 15.96L7.27 15.96L6.65 13.89L6.62 13.88L4.72 14.90L2.70 12.88L3.72 10.98L3.71 10.95L1.64 10.33L1.64 7.47L3.71 6.85L3.72 6.82L2.70 4.92L4.72 2.90L6.62 3.92L6.65 3.91L7.27 1.84L10.13 1.84L10.75 3.91L10.78 3.92L12.68 2.90L14.70 4.92L13.68 6.82L13.69 6.85z" fill="#1b1e26"/><circle cx="8.7" cy="8.9" r="2.5" fill="#2b313d"/></svg>
<svg style="position:absolute;left:92.2px;top:108.1px" width="18" height="18" viewBox="0 0 18 18"><rect width="17.8" height="17.8" fill="#2b313d"/><path d="M3.4 3.2L14.4 14.6M14.4 3.2L3.4 14.6" stroke="#1b1e26" stroke-width="2"/></svg>
<div class="t" style="left:116.60px;top:106.12px;font-size:13.50px;color:#d6d7da;letter-spacing:0.2px">MA(5):8886.69</div>
<div class="t" style="left:214.40px;top:106.12px;font-size:13.50px;color:#f3e331;letter-spacing:0.2px">MA(10):8504.19</div>
<div class="t" style="left:320.80px;top:106.12px;font-size:13.50px;color:#e14ab8;letter-spacing:0.2px">MA(20):7842.98</div>
<div class="t" style="left:427.20px;top:106.12px;font-size:13.50px;color:#2398d6;letter-spacing:0.2px">MA(30):7566.66</div>
<div class="t" style="left:533.40px;top:106.12px;font-size:13.50px;color:#a5d86c;letter-spacing:0.2px">MA(60):7006.95</div>
<div class="t" style="left:38.20px;top:128.32px;font-size:13.50px;color:#d6d7da;letter-spacing:-0.25px">BOLL(20,2)</div>
<svg style="position:absolute;left:115.8px;top:130.6px" width="18" height="18" viewBox="0 0 18 18"><rect width="17.4" height="17.8" fill="#2b313d"/><path d="M15.76 7.47L15.76 10.33L13.69 10.95L13.68 10.98L14.70 12.88L12.68 14.90L10.78 13.88L10.75 13.89L10.13 15.96L7.27 15.96L6.65 13.89L6.62 13.88L4.72 14.90L2.70 12.88L3.72 10.98L3.71 10.95L1.64 10.33L1.64 7.47L3.71 6.85L3.72 6.82L2.70 4.92L4.72 2.90L6.62 3.92L6.65 3.91L7.27 1.84L10.13 1.84L10.75 3.91L10.78 3.92L12.68 2.90L14.70 4.92L13.68 6.82L13.69 6.85z" fill="#1b1e26"/><circle cx="8.7" cy="8.9" r="2.5" fill="#2b313d"/></svg>
<svg style="position:absolute;left:139.2px;top:130.6px" width="18" height="18" viewBox="0 0 18 18"><rect width="17.8" height="17.8" fill="#2b313d"/><path d="M3.4 3.2L14.4 14.6M14.4 3.2L3.4 14.6" stroke="#1b1e26" stroke-width="2"/></svg>
<div class="t" style="left:163.80px;top:128.32px;font-size:13.50px;color:#d6d7da;letter-spacing:-0.15px">BOLL:7842.98</div>
<div class="t" style="left:255.60px;top:128.32px;font-size:13.50px;color:#f3e331;">UB:9389.22</div>
<div class="t" style="left:333.40px;top:128.32px;font-size:13.50px;color:#e14ab8;">LB:6296.75</div>
<div class="t" style="left:38.20px;top:150.72px;font-size:13.50px;color:#d6d7da;">TD</div>
<svg style="position:absolute;left:64.8px;top:153.1px" width="18" height="18" viewBox="0 0 18 18"><rect width="17.4" height="17.8" fill="#2b313d"/><path d="M15.76 7.47L15.76 10.33L13.69 10.95L13.68 10.98L14.70 12.88L12.68 14.90L10.78 13.88L10.75 13.89L10.13 15.96L7.27 15.96L6.65 13.89L6.62 13.88L4.72 14.90L2.70 12.88L3.72 10.98L3.71 10.95L1.64 10.33L1.64 7.47L3.71 6.85L3.72 6.82L2.70 4.92L4.72 2.90L6.62 3.92L6.65 3.91L7.27 1.84L10.13 1.84L10.75 3.91L10.78 3.92L12.68 2.90L14.70 4.92L13.68 6.82L13.69 6.85z" fill="#1b1e26"/><circle cx="8.7" cy="8.9" r="2.5" fill="#2b313d"/></svg>
<svg style="position:absolute;left:88.4px;top:153.1px" width="18" height="18" viewBox="0 0 18 18"><rect width="17.8" height="17.8" fill="#2b313d"/><path d="M3.4 3.2L14.4 14.6M14.4 3.2L3.4 14.6" stroke="#1b1e26" stroke-width="2"/></svg>
<div class="t" style="left:113.20px;top:150.72px;font-size:13.50px;color:#1fb866;">Up:13</div>
<svg style="position:absolute;left:15.2px;top:518.8px" width="12" height="8" viewBox="0 0 12 8"><path d="M0.6 0.8L5.8 6.2L11 0.8" fill="none" stroke="#7a8194" stroke-width="1.3"/></svg>
<div class="t" style="left:38.00px;top:511.22px;font-size:13.50px;color:#d6d7da;letter-spacing:-0.22px">RSI(6,12,24)</div>
<svg style="position:absolute;left:117.8px;top:513.2px" width="18" height="18" viewBox="0 0 18 18"><rect width="17.4" height="17.8" fill="#2b313d"/><path d="M15.76 7.47L15.76 10.33L13.69 10.95L13.68 10.98L14.70 12.88L12.68 14.90L10.78 13.88L10.75 13.89L10.13 15.96L7.27 15.96L6.65 13.89L6.62 13.88L4.72 14.90L2.70 12.88L3.72 10.98L3.71 10.95L1.64 10.33L1.64 7.47L3.71 6.85L3.72 6.82L2.70 4.92L4.72 2.90L6.62 3.92L6.65 3.91L7.27 1.84L10.13 1.84L10.75 3.91L10.78 3.92L12.68 2.90L14.70 4.92L13.68 6.82L13.69 6.85z" fill="#1b1e26"/><circle cx="8.7" cy="8.9" r="2.5" fill="#2b313d"/></svg>
<svg style="position:absolute;left:141.6px;top:513.2px" width="18" height="18" viewBox="0 0 18 18"><rect width="17.8" height="17.8" fill="#2b313d"/><path d="M3.4 3.2L14.4 14.6M14.4 3.2L3.4 14.6" stroke="#1b1e26" stroke-width="2"/></svg>
<div class="t" style="left:165.80px;top:511.22px;font-size:13.50px;color:#d6d7da;">RSI1:77.65</div>
<div class="t" style="left:238.60px;top:511.22px;font-size:13.50px;color:#f3e331;">RSI2:73.32</div>
<div class="t" style="left:311.60px;top:511.22px;font-size:13.50px;color:#e14ab8;">RSI3:63.10</div>
<svg style="position:absolute;left:15.2px;top:621.4px" width="12" height="8" viewBox="0 0 12 8"><path d="M0.6 0.8L5.8 6.2L11 0.8" fill="none" stroke="#7a8194" stroke-width="1.3"/></svg>
<div class="t" style="left:37.80px;top:613.82px;font-size:13.50px;color:#d6d7da;">MACD(12,26,9)</div>
<svg style="position:absolute;left:136.8px;top:615.3px" width="18" height="18" viewBox="0 0 18 18"><rect width="17.4" height="17.8" fill="#2b313d"/><path d="M15.76 7.47L15.76 10.33L13.69 10.95L13.68 10.98L14.70 12.88L12.68 14.90L10.78 13.88L10.75 13.89L10.13 15.96L7.27 15.96L6.65 13.89L6.62 13.88L4.72 14.90L2.70 12.88L3.72 10.98L3.71 10.95L1.64 10.33L1.64 7.47L3.71 6.85L3.72 6.82L2.70 4.92L4.72 2.90L6.62 3.92L6.65 3.91L7.27 1.84L10.13 1.84L10.75 3.91L10.78 3.92L12.68 2.90L14.70 4.92L13.68 6.82L13.69 6.85z" fill="#1b1e26"/><circle cx="8.7" cy="8.9" r="2.5" fill="#2b313d"/></svg>
<svg style="position:absolute;left:160.2px;top:615.3px" width="18" height="18" viewBox="0 0 18 18"><rect width="17.8" height="17.8" fill="#2b313d"/><path d="M3.4 3.2L14.4 14.6M14.4 3.2L3.4 14.6" stroke="#1b1e26" stroke-width="2"/></svg>
<div class="t" style="left:184.40px;top:613.82px;font-size:13.50px;color:#d6d7da;">DIF:522.42</div>
<div class="t" style="left:257.60px;top:613.82px;font-size:13.50px;color:#f3e331;">DEA:401.49</div>
<div class="t" style="left:335.60px;top:613.82px;font-size:13.50px;color:#1fb866;">MACD:241.85</div>
<svg style="position:absolute;left:15.2px;top:703.8px" width="12" height="8" viewBox="0 0 12 8"><path d="M0.6 0.8L5.8 6.2L11 0.8" fill="none" stroke="#7a8194" stroke-width="1.3"/></svg>
<div class="t" style="left:37.80px;top:696.32px;font-size:13.50px;color:#d6d7da;">KDJ(10,5,3)</div>
<svg style="position:absolute;left:115.4px;top:697.9px" width="18" height="18" viewBox="0 0 18 18"><rect width="17.4" height="17.8" fill="#2b313d"/><path d="M15.76 7.47L15.76 10.33L13.69 10.95L13.68 10.98L14.70 12.88L12.68 14.90L10.78 13.88L10.75 13.89L10.13 15.96L7.27 15.96L6.65 13.89L6.62 13.88L4.72 14.90L2.70 12.88L3.72 10.98L3.71 10.95L1.64 10.33L1.64 7.47L3.71 6.85L3.72 6.82L2.70 4.92L4.72 2.90L6.62 3.92L6.65 3.91L7.27 1.84L10.13 1.84L10.75 3.91L10.78 3.92L12.68 2.90L14.70 4.92L13.68 6.82L13.69 6.85z" fill="#1b1e26"/><circle cx="8.7" cy="8.9" r="2.5" fill="#2b313d"/></svg>
<svg style="position:absolute;left:138.8px;top:697.9px" width="18" height="18" viewBox="0 0 18 18"><rect width="17.8" height="17.8" fill="#2b313d"/><path d="M3.4 3.2L14.4 14.6M14.4 3.2L3.4 14.6" stroke="#1b1e26" stroke-width="2"/></svg>
<div class="t" style="left:163.00px;top:696.32px;font-size:13.50px;color:#d6d7da;">K:75.78</div>
<div class="t" style="left:216.20px;top:696.32px;font-size:13.50px;color:#f3e331;">D:77.81</div>
<div class="t" style="left:269.80px;top:696.32px;font-size:13.50px;color:#e14ab8;">J:71.72</div>
<div class="t" style="left:1433.00px;top:133.92px;width:80px;text-align:center;font-size:13.50px;color:#c3c6cd;">10805.42</div>
<div class="t" style="left:1433.00px;top:258.92px;width:80px;text-align:center;font-size:13.50px;color:#c3c6cd;">7275.39</div>
<div class="t" style="left:1433.00px;top:321.42px;width:80px;text-align:center;font-size:13.50px;color:#c3c6cd;">5969.85</div>
<div class="t" style="left:1433.00px;top:383.92px;width:80px;text-align:center;font-size:13.50px;color:#c3c6cd;">4898.58</div>
<div class="t" style="left:1433.00px;top:446.42px;width:80px;text-align:center;font-size:13.50px;color:#c3c6cd;">4019.55</div>
<div class="t" style="left:1433.00px;top:512.42px;width:80px;text-align:center;font-size:13.50px;color:#c3c6cd;">100.00</div>
<div class="t" style="left:1433.00px;top:547.92px;width:80px;text-align:center;font-size:13.50px;color:#c3c6cd;">70.00</div>
<div class="t" style="left:1433.00px;top:571.42px;width:80px;text-align:center;font-size:13.50px;color:#c3c6cd;">50.00</div>
<div class="t" style="left:1433.00px;top:628.42px;width:80px;text-align:center;font-size:13.50px;color:#c3c6cd;">500.00</div>
<div class="t" style="left:1433.00px;top:675.72px;width:80px;text-align:center;font-size:13.50px;color:#c3c6cd;">0.00</div>
<div class="t" style="left:1433.00px;top:704.72px;width:80px;text-align:center;font-size:13.50px;color:#c3c6cd;">100.00</div>
<div class="t" style="left:1433.00px;top:779.32px;width:80px;text-align:center;font-size:13.50px;color:#c3c6cd;">50.00</div>
<div class="t" style="left:1432.40px;top:197.02px;width:80px;text-align:center;font-size:13.50px;color:#ffffff;">8864.61</div>
<div class="t" style="left:69.25px;top:246.72px;width:24px;text-align:center;font-size:13.50px;color:#1fb866;">1</div>
<div class="t" style="left:124.25px;top:248.92px;width:24px;text-align:center;font-size:13.50px;color:#1fb866;">2</div>
<div class="t" style="left:179.25px;top:241.92px;width:24px;text-align:center;font-size:13.50px;color:#1fb866;">3</div>
<div class="t" style="left:234.25px;top:242.72px;width:24px;text-align:center;font-size:13.50px;color:#1fb866;">4</div>
<div class="t" style="left:454.25px;top:223.22px;width:24px;text-align:center;font-size:13.50px;color:#1fb866;">1</div>
<div class="t" style="left:509.25px;top:229.02px;width:24px;text-align:center;font-size:13.50px;color:#1fb866;">2</div>
<div class="t" style="left:564.25px;top:225.62px;width:24px;text-align:center;font-size:13.50px;color:#1fb866;">3</div>
<div class="t" style="left:619.25px;top:225.62px;width:24px;text-align:center;font-size:13.50px;color:#1fb866;">4</div>
<div class="t" style="left:674.25px;top:221.72px;width:24px;text-align:center;font-size:13.50px;color:#1fb866;">5</div>
<div class="t" style="left:729.25px;top:221.72px;width:24px;text-align:center;font-size:13.50px;color:#1fb866;">6</div>
<div class="t" style="left:784.25px;top:176.82px;width:24px;text-align:center;font-size:13.50px;color:#1fb866;">7</div>
<div class="t" style="left:839.25px;top:160.52px;width:24px;text-align:center;font-size:13.50px;color:#1fb866;">8</div>
<div class="t" style="left:894.25px;top:174.32px;width:24px;text-align:center;font-size:13.50px;color:#ffffff;">9</div>
<div class="t" style="left:1114.25px;top:177.72px;width:24px;text-align:center;font-size:13.50px;color:#ffffff;">13</div>
<div class="t" style="left:14.25px;top:307.72px;width:24px;text-align:center;font-size:13.50px;color:#e0463f;">1</div>
<div class="t" style="left:289.25px;top:302.02px;width:24px;text-align:center;font-size:13.50px;color:#e0463f;">1</div>
<div class="t" style="left:344.25px;top:302.02px;width:24px;text-align:center;font-size:13.50px;color:#e0463f;">2</div>
<div class="t" style="left:399.25px;top:298.32px;width:24px;text-align:center;font-size:13.50px;color:#e0463f;">3</div>
<div class="t" style="left:99.60px;top:295.00px;font-size:15.00px;color:#cfd1d6;font-family:&quot;Liberation Serif&quot;,serif">6480</div>
<div class="t" style="left:801.00px;top:175.60px;font-size:15.00px;color:#cfd1d6;font-family:&quot;Liberation Serif&quot;,serif">9456</div>
<div class="t" style="left:41.00px;top:848.72px;width:80px;text-align:center;font-size:13.50px;color:#c3c6cd;">4月 16</div>
<div class="t" style="left:151.00px;top:848.72px;width:80px;text-align:center;font-size:13.50px;color:#c3c6cd;">4月 18</div>
<div class="t" style="left:261.00px;top:848.72px;width:80px;text-align:center;font-size:13.50px;color:#c3c6cd;">4月 20</div>
<div class="t" style="left:371.00px;top:848.72px;width:80px;text-align:center;font-size:13.50px;color:#c3c6cd;">4月 22</div>
<div class="t" style="left:481.00px;top:848.72px;width:80px;text-align:center;font-size:13.50px;color:#c3c6cd;">4月 24</div>
<div class="t" style="left:591.00px;top:848.72px;width:80px;text-align:center;font-size:13.50px;color:#c3c6cd;">4月 26</div>
<div class="t" style="left:701.00px;top:848.72px;width:80px;text-align:center;font-size:13.50px;color:#c3c6cd;">4月 28</div>
<div class="t" style="left:811.00px;top:848.72px;width:80px;text-align:center;font-size:13.50px;color:#c3c6cd;">4月 30</div>
<div class="t" style="left:921.00px;top:848.72px;width:80px;text-align:center;font-size:13.50px;color:#c3c6cd;">5月 2</div>
<div class="t" style="left:1031.00px;top:848.72px;width:80px;text-align:center;font-size:13.50px;color:#c3c6cd;">5月 4</div>
<div class="t" style="left:1141.00px;top:848.72px;width:80px;text-align:center;font-size:13.50px;color:#c3c6cd;">5月 6</div>
<div class="t" style="left:1251.00px;top:848.72px;width:80px;text-align:center;font-size:13.50px;color:#c3c6cd;">5月 8</div>
<div class="t" style="left:1361.00px;top:848.72px;width:80px;text-align:center;font-size:13.50px;color:#c3c6cd;">5月 10</div>
<div class="t" style="left:1403.60px;top:848.75px;font-size:14.00px;color:#2e7de6;">对数</div>
<div class="t" style="left:1446.00px;top:848.72px;font-size:13.50px;color:#c3c6cd;">%</div>
<div class="t" style="left:1470.80px;top:848.75px;font-size:14.00px;color:#c3c6cd;">自动</div>
</div>
<div style="position:absolute;left:1515px;top:414px;width:7px;height:48px;background:#393a43"></div>
<svg style="position:absolute;left:1516px;top:432.6px" width="6" height="11"><path d="M0 0l5 5.3l-5 5.3z" fill="#7d8193"/></svg>
<div id="R">
<div class="k" style="left:0;top:41px;width:107px;height:1px"></div>
<div class="k" style="left:0;top:80px;width:107px;height:1px"></div>
<div class="t" style="left:15.20px;top:1.23px;font-size:12.60px;color:#868a97;white-space:nowrap"><span class="l2">24H</span>成交额<span class="l2">(</span>￥<span class="l2">):</span></div>
<div class="t" style="left:102.40px;top:1.23px;font-size:12.60px;color:#e8e9ec;"><span class="l2">2</span></div>
<div class="t" style="left:15.20px;top:21.43px;font-size:12.60px;color:#868a97;white-space:nowrap">净流入<span class="l2">(</span>￥<span class="l2">):</span></div>
<div class="t" style="left:80.00px;top:21.43px;font-size:12.60px;color:#f03c3c;"><span class="l2">-4,06</span></div>
<div class="t" style="left:17.40px;top:53.34px;font-size:14.60px;color:#dcdee3;"><span class="lb">2</span>位小数</div>
<svg style="position:absolute;left:76.4px;top:62.2px" width="8" height="5"><path d="M0 0h7.4l-3.7 4.6z" fill="#70747f"/></svg>
<div class="t" style="left:15.20px;top:83.10px;font-size:13.00px;color:#7d8190;">价格<span class="l2">(USDT)</span></div>
<div style="position:absolute;left:0;top:183.4px;width:107px;height:24.4px;background:#1d1e23"></div>
<div style="position:absolute;left:0;top:308px;width:107px;height:24px;background:#241415"></div>
<div class="t" style="left:14.90px;top:110.73px;font-size:15.50px;color:#e04947;letter-spacing:-0.15px">8865.91</div>
<div class="t" style="left:14.90px;top:135.73px;font-size:15.50px;color:#e04947;letter-spacing:-0.15px">8865.84</div>
<div class="t" style="left:14.90px;top:160.73px;font-size:15.50px;color:#e04947;letter-spacing:-0.15px">8865.77</div>
<div class="t" style="left:14.90px;top:185.73px;font-size:15.50px;color:#e04947;letter-spacing:-0.15px">8865.76</div>
<div class="t" style="left:14.90px;top:210.73px;font-size:15.50px;color:#e04947;letter-spacing:-0.15px">8865.70</div>
<div class="t" style="left:14.90px;top:235.73px;font-size:15.50px;color:#e04947;letter-spacing:-0.15px">8865.69</div>
<div class="t" style="left:14.90px;top:260.73px;font-size:15.50px;color:#e04947;letter-spacing:-0.15px">8865.60</div>
<div class="t" style="left:14.90px;top:285.73px;font-size:15.50px;color:#e04947;letter-spacing:-0.15px">8865.43</div>
<div class="t" style="left:14.90px;top:310.73px;font-size:15.50px;color:#e04947;letter-spacing:-0.15px">8865.29</div>
<div class="t" style="left:14.90px;top:335.73px;font-size:15.50px;color:#e04947;letter-spacing:-0.15px">8865.19</div>
<div class="t" style="left:14.90px;top:360.73px;font-size:15.50px;color:#e04947;letter-spacing:-0.15px">8864.99</div>
<div class="t" style="left:14.90px;top:385.73px;font-size:15.50px;color:#e04947;letter-spacing:-0.15px">8864.79</div>
<div class="t" style="left:14.90px;top:410.73px;font-size:15.50px;color:#e04947;letter-spacing:-0.15px">8864.63</div>
<div class="t" style="left:14.90px;top:435.73px;font-size:15.50px;color:#e04947;letter-spacing:-0.15px">8864.62</div>
<div style="position:absolute;left:0;top:463px;width:107px;height:58px;background:#1d1e23"></div>
<div class="t" style="left:15.20px;top:469.05px;font-size:21.80px;color:#dadbde;font-weight:bold"><span class="l3">8864.61</span></div>
<div class="t" style="left:15.60px;top:495.58px;font-size:14.50px;color:#8a8e99;">￥</div>
<div class="t" style="left:30.00px;top:495.83px;font-size:15.20px;color:#8a8e99;letter-spacing:-0.35px">62894.41</div>
<div class="t" style="left:14.90px;top:530.13px;font-size:15.50px;color:#1fb866;letter-spacing:-0.15px">8863.67</div>
<div class="t" style="left:14.90px;top:555.13px;font-size:15.50px;color:#1fb866;letter-spacing:-0.15px">8862.83</div>
<div class="t" style="left:14.90px;top:580.13px;font-size:15.50px;color:#1fb866;letter-spacing:-0.15px">8862.61</div>
<div class="t" style="left:14.90px;top:605.13px;font-size:15.50px;color:#1fb866;letter-spacing:-0.15px">8862.04</div>
<div class="t" style="left:14.90px;top:630.13px;font-size:15.50px;color:#1fb866;letter-spacing:-0.15px">8861.92</div>
<div class="t" style="left:14.90px;top:655.13px;font-size:15.50px;color:#1fb866;letter-spacing:-0.15px">8861.76</div>
<div class="t" style="left:14.90px;top:680.13px;font-size:15.50px;color:#1fb866;letter-spacing:-0.15px">8861.75</div>
<div class="t" style="left:14.90px;top:705.13px;font-size:15.50px;color:#1fb866;letter-spacing:-0.15px">8861.52</div>
<div class="t" style="left:14.90px;top:730.13px;font-size:15.50px;color:#1fb866;letter-spacing:-0.15px">8861.27</div>
<div class="t" style="left:14.90px;top:755.13px;font-size:15.50px;color:#1fb866;letter-spacing:-0.15px">8861.26</div>
<div class="t" style="left:14.90px;top:780.13px;font-size:15.50px;color:#1fb866;letter-spacing:-0.15px">8861.25</div>
<div class="t" style="left:14.90px;top:805.13px;font-size:15.50px;color:#1fb866;letter-spacing:-0.15px">8861.24</div>
<div class="t" style="left:14.90px;top:830.13px;font-size:15.50px;color:#1fb866;letter-spacing:-0.15px">8861.01</div>
</div>
</body></html>
